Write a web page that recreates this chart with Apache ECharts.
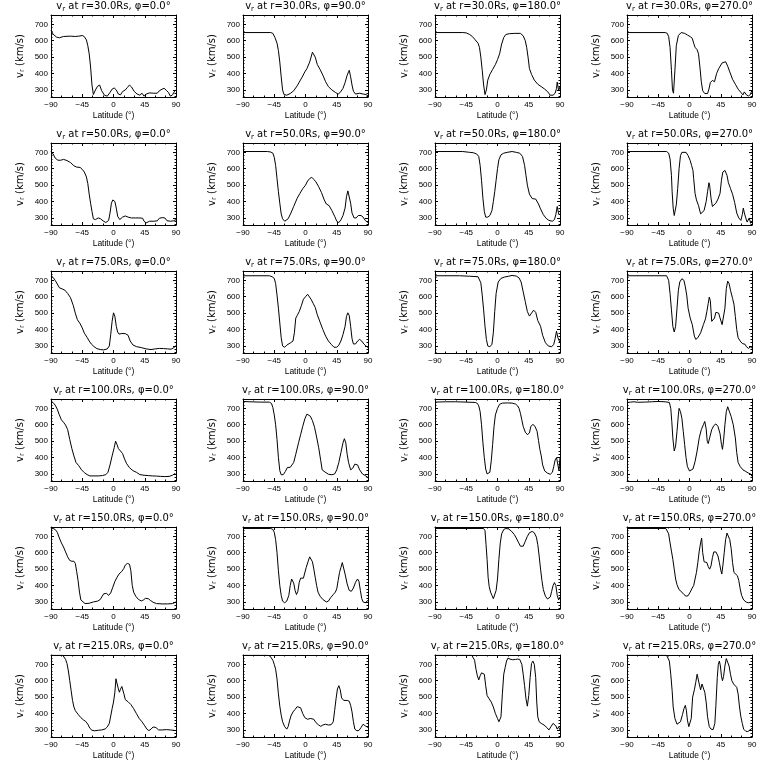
<!DOCTYPE html>
<html><head><meta charset="utf-8">
<script src="https://cdn.jsdelivr.net/npm/echarts@6/dist/echarts.min.js"></script>
<style>html,body{margin:0;padding:0;background:#fff}#c{width:768px;height:768px}</style>
</head><body><div id="c"></div>
<script>
// ---------- labels / ticks ----------
const radii = ['30.0', '50.0', '75.0', '100.0', '150.0', '215.0'];
const phis = ['0.0', '90.0', '180.0', '270.0'];
const xTicks = [-90, -45, 0, 45, 90];
const yTicks = [300, 400, 500, 600, 700];
const yMinorTicks = [260, 280, 320, 340, 360, 380, 420, 440, 460, 480, 520, 540, 560, 580, 620, 640, 660, 680, 720, 740];
const xRange = [-90, 90];
const yRange = [257, 757];

// ---------- data: [latitude, v_r] ----------
const r30_phi0 = [[-90,665],[-87,640],[-82,622],[-78,618],[-72,626],[-62,628],[-55,626],[-50,628],[-45,632],[-42,625],[-39,605],[-37,570],[-35,520],[-33,440],[-31,330],[-29,272],[-26,300],[-23,322],[-20,330],[-17,295],[-13,268],[-9,262],[-5,285],[-2,305],[1,312],[4,300],[7,275],[10,270],[13,290],[17,300],[20,315],[23,330],[26,318],[30,290],[34,275],[38,268],[41,280],[44,262],[47,275],[52,282],[58,280],[63,280],[66,295],[70,305],[73,310],[76,298],[79,285],[82,262],[85,270],[88,292],[90,300]];
const r30_phi90 = [[-90,650],[-50,650],[-47,645],[-44,620],[-41,585],[-39,540],[-37,470],[-35,380],[-33,300],[-31,272],[-27,268],[-22,278],[-17,295],[-12,325],[-8,355],[-4,385],[-1,410],[2,430],[6,470],[10,530],[14,500],[17,455],[21,425],[25,390],[29,350],[33,320],[38,300],[43,285],[47,275],[50,285],[54,310],[57,345],[60,390],[63,420],[65,380],[67,330],[69,292],[72,275],[78,280],[83,275],[87,272],[90,265]];
const r30_phi180 = [[-90,650],[-50,650],[-45,648],[-40,638],[-36,625],[-32,605],[-28,585],[-26,560],[-24,500],[-22,420],[-20,330],[-18,272],[-16,300],[-14,360],[-11,395],[-7,425],[-3,455],[0,485],[3,520],[6,580],[9,620],[12,638],[17,643],[25,645],[33,645],[37,630],[40,600],[42,560],[44,500],[46,430],[49,395],[53,360],[58,335],[63,320],[68,305],[72,290],[76,268],[80,268],[83,280],[85,310],[86,348],[88,295],[90,320]];
const r30_phi270 = [[-90,650],[-35,650],[-32,645],[-30,625],[-28,560],[-26,420],[-24.5,300],[-23,280],[-21,420],[-19,570],[-16,632],[-12,650],[-7,645],[-3,635],[1,625],[4,615],[6,585],[8,560],[11,545],[13,520],[15,440],[17,350],[19,295],[22,278],[26,278],[28,305],[30,345],[33,358],[36,350],[39,400],[42,430],[47,465],[52,472],[55,445],[58,410],[62,365],[66,335],[70,305],[74,285],[77,270],[79,288],[82,270],[85,262],[88,275],[90,300]];

const r50_phi0 = [[-90,705],[-87,690],[-84,665],[-80,652],[-76,652],[-72,657],[-67,650],[-62,638],[-57,618],[-53,610],[-48,608],[-45,596],[-42,580],[-39,550],[-37,510],[-35,445],[-33,390],[-31,340],[-29,295],[-26,290],[-22,300],[-19,296],[-15,282],[-11,272],[-7,285],[-5,330],[-3,390],[-1,410],[2,400],[4,360],[6,310],[9,290],[13,305],[17,312],[21,305],[26,300],[32,300],[38,300],[42,298],[44,280],[47,270],[52,280],[58,280],[63,282],[66,298],[70,302],[74,300],[77,283],[82,280],[86,282],[90,290]];
const r50_phi90 = [[-90,705],[-55,705],[-50,702],[-47,695],[-45,670],[-43,620],[-41,540],[-39,460],[-37,390],[-35,325],[-33,295],[-30,280],[-28,278],[-25,295],[-21,330],[-17,370],[-12,420],[-8,450],[-4,478],[0,500],[3,525],[6,540],[9,548],[12,535],[15,520],[19,490],[23,455],[27,410],[30,385],[34,375],[38,345],[42,310],[45,280],[48,272],[51,288],[54,315],[57,360],[59,430],[61,465],[63,455],[65,390],[67,330],[70,300],[73,300],[76,315],[80,315],[83,305],[86,285],[90,272]];
const r50_phi180 = [[-90,705],[-50,705],[-40,700],[-35,698],[-30,690],[-27,675],[-25,620],[-23,530],[-21,420],[-19,340],[-17,305],[-14,305],[-11,315],[-8,345],[-6,400],[-4,460],[-2,530],[0,600],[2,655],[5,685],[9,695],[14,700],[21,705],[27,700],[32,695],[36,675],[39,620],[41,560],[43,500],[46,445],[50,418],[55,415],[59,385],[62,355],[66,320],[70,298],[74,285],[79,280],[82,290],[84,320],[86,370],[88,325],[90,320]];
const r50_phi270 = [[-90,705],[-33,705],[-30,695],[-28,660],[-26,560],[-25,460],[-23.5,360],[-22,315],[-20.5,320],[-19,380],[-17,480],[-15,600],[-13,680],[-11,700],[-5,700],[-2,680],[1,650],[3,620],[5,590],[6,540],[8,450],[10,410],[13,375],[16,325],[18,322],[21,345],[24,400],[26,460],[28,515],[29,500],[31,420],[33,370],[35,358],[38,390],[41,415],[44,450],[46,530],[48,580],[51,590],[54,560],[56,515],[59,480],[62,445],[65,395],[68,330],[71,300],[74,285],[76,320],[77.5,360],[79,330],[81,300],[83,275],[86,300],[88,268],[90,275]];

const r75_phi0 = [[-90,728],[-87,718],[-84,700],[-81,678],[-78,655],[-74,648],[-70,640],[-66,620],[-62,595],[-58,548],[-55,500],[-52,460],[-48,435],[-45,410],[-42,378],[-38,352],[-35,330],[-32,312],[-28,296],[-24,284],[-19,278],[-14,276],[-9,282],[-6,300],[-4,370],[-2,450],[0,502],[2,480],[4,420],[6,385],[8,372],[12,376],[17,375],[21,365],[24,330],[28,306],[33,296],[40,290],[47,282],[54,278],[60,282],[66,285],[72,284],[78,282],[83,280],[87,290],[90,302]];
const r75_phi90 = [[-90,728],[-52,728],[-48,722],[-45,712],[-43,680],[-41,610],[-39,530],[-37,440],[-35,350],[-33,300],[-30,292],[-27,305],[-22,318],[-18,330],[-16,380],[-14,470],[-12,485],[-9,510],[-6,545],[-3,585],[0,600],[3,615],[5,610],[8,585],[11,560],[14,535],[17,490],[21,445],[25,400],[29,360],[33,330],[37,310],[41,292],[45,292],[48,305],[51,330],[54,370],[57,420],[59,480],[61,502],[63,485],[65,420],[67,345],[69,312],[72,312],[75,330],[78,340],[81,330],[84,312],[87,300],[90,290]];
const r75_phi180 = [[-90,728],[-55,728],[-40,725],[-28,722],[-26,710],[-24,685],[-22,610],[-20,520],[-18,420],[-16,340],[-14,300],[-11,295],[-8,310],[-6,380],[-4,510],[-2,620],[1,690],[5,712],[10,720],[16,725],[21,730],[27,726],[31,715],[34,690],[37,630],[40,570],[43,510],[46,482],[49,500],[52,518],[55,505],[58,455],[62,420],[65,365],[69,320],[73,300],[78,295],[81,310],[83,345],[85,390],[87,350],[90,320]];
const r75_phi270 = [[-90,728],[-33,728],[-30,700],[-28,620],[-26,520],[-24,420],[-22,385],[-20,420],[-18,530],[-16,640],[-14,690],[-11,710],[-8,700],[-6,660],[-4,610],[-2,530],[1,470],[4,430],[7,360],[9,340],[12,350],[16,380],[20,430],[23,465],[25,510],[27,560],[28.5,598],[30,575],[32,450],[34,440],[36,470],[38,505],[40,515],[42,500],[44,470],[47,430],[49,440],[51,530],[53,650],[55,695],[57,680],[59,640],[62,590],[64,555],[66,480],[68,400],[70,350],[73,330],[76,315],[78,322],[80,310],[82,295],[85,285],[88,295],[90,285]];

const r100_phi0 = [[-90,745],[-87,735],[-84,720],[-81,695],[-78,660],[-75,630],[-72,615],[-69,598],[-66,570],[-63,510],[-60,455],[-57,410],[-54,370],[-50,350],[-46,325],[-42,308],[-38,296],[-34,288],[-28,288],[-22,288],[-16,290],[-11,296],[-8,310],[-5,355],[-2,410],[1,460],[3,500],[5,480],[7,455],[10,440],[13,425],[16,390],[19,362],[23,338],[28,320],[33,310],[38,296],[44,292],[50,290],[56,288],[62,287],[68,285],[74,284],[80,285],[85,292],[88,302],[90,296]];
const r100_phi90 = [[-90,742],[-80,740],[-65,738],[-52,738],[-49,730],[-47,705],[-45,660],[-43,600],[-41,510],[-39,400],[-37,320],[-35,295],[-32,296],[-29,315],[-26,340],[-24,352],[-22,340],[-20,340],[-17,370],[-14,420],[-10,490],[-7,540],[-4,590],[-1,635],[2,665],[4,668],[7,652],[10,625],[13,585],[16,525],[19,460],[22,380],[24,325],[28,312],[33,298],[38,295],[42,300],[45,325],[48,370],[51,430],[54,490],[56,515],[58,490],[60,420],[62,370],[65,325],[68,335],[71,360],[73,372],[75,355],[78,325],[82,300],[86,290],[90,278]];
const r100_phi180 = [[-90,738],[-75,740],[-60,740],[-45,738],[-32,736],[-29,730],[-27,715],[-25,680],[-23,600],[-21,490],[-19,400],[-17,330],[-15,300],[-12.5,292],[-11,310],[-9,380],[-7,480],[-5,590],[-3,660],[0,700],[3,725],[7,732],[14,733],[21,732],[26,726],[29,715],[31,700],[33,670],[35,630],[37,590],[40,555],[43,540],[46,550],[48,590],[51,602],[54,590],[57,560],[59,505],[61,450],[63,410],[65,355],[68,318],[72,305],[76,298],[79,310],[81,345],[83,385],[85,400],[87,390],[88.5,320],[90,400]];
const r100_phi270 = [[-90,735],[-85,738],[-80,740],[-75,737],[-65,738],[-55,740],[-45,742],[-35,740],[-29,736],[-27,700],[-25.5,620],[-24,520],[-22,440],[-20,470],[-18,560],[-16,660],[-15,700],[-13,680],[-11,640],[-9,560],[-7,480],[-5,400],[-3,345],[0,318],[2,310],[5,330],[8,375],[11,440],[14,520],[17,570],[20,600],[22,620],[24,575],[25.5,500],[27,485],[29,520],[32,570],[35,595],[38,605],[41,590],[44,545],[46,480],[47.5,450],[49,500],[51,600],[53,680],[55,710],[57,700],[60,650],[63,600],[66,520],[68,430],[70,370],[73,345],[77,325],[81,315],[85,305],[88,300],[90,285]];

const r150_phi0 = [[-90,745],[-87,748],[-84,742],[-81,725],[-78,690],[-75,660],[-72,635],[-69,605],[-66,575],[-63,553],[-60,548],[-57,548],[-55,535],[-53,485],[-51,430],[-49,360],[-47,312],[-45,300],[-41,290],[-35,292],[-29,300],[-23,305],[-19,315],[-17,330],[-14,350],[-12,360],[-10,352],[-7,340],[-4,355],[-1,390],[2,425],[5,450],[8,470],[12,487],[15,505],[17,525],[20,535],[23,530],[25,490],[27,400],[29,360],[32,335],[36,315],[40,306],[43,312],[46,322],[50,320],[53,310],[57,298],[62,290],[70,288],[78,288],[85,290],[90,300]];
const r150_phi90 = [[-90,748],[-50,748],[-47,742],[-45,725],[-43,680],[-41,600],[-39,490],[-37,400],[-35,340],[-33,305],[-30,295],[-27,305],[-24,340],[-22,400],[-20,440],[-19,450],[-17,415],[-15,370],[-13,345],[-11,365],[-9,420],[-7,445],[-3,445],[-1,455],[1,510],[4,550],[6,575],[8,570],[10,545],[12,500],[14,450],[16,400],[18,360],[21,335],[25,315],[30,300],[33,305],[36,325],[40,345],[43,360],[45,380],[47,430],[49,480],[51,510],[53,540],[55,530],[57,470],[60,410],[63,370],[66,365],[69,385],[72,420],[75,440],[77,425],[79,370],[81,320],[83,300],[86,295],[90,310]];
const r150_phi180 = [[-90,748],[-20,748],[-18,735],[-16.5,650],[-15,560],[-13.5,450],[-12,395],[-10,360],[-8,340],[-6,320],[-4,322],[-2,370],[0,440],[2,560],[4,660],[6,715],[9,742],[12,748],[16,745],[20,732],[24,712],[27,690],[30,665],[33,640],[35,628],[37,640],[40,670],[43,700],[46,722],[50,730],[53,722],[56,695],[58,650],[60,580],[62,500],[64,430],[66,375],[69,335],[72,318],[74,310],[76,330],[78,365],[80,400],[82,418],[84,400],[86,340],[88,312],[90,330]];
const r150_phi270 = [[-90,748],[-34,748],[-32,738],[-30,715],[-28,660],[-26,610],[-24,560],[-22,500],[-20,440],[-18,405],[-15,375],[-11,360],[-8,345],[-5,335],[-2,338],[1,360],[4,385],[6,400],[8,440],[10,480],[12,540],[14,610],[16,660],[17.5,690],[19,600],[21,545],[23,550],[25,540],[27,515],[29,500],[31,520],[33,570],[35,605],[38,605],[41,580],[43,540],[45,495],[46.5,470],[48,520],[50,600],[52,680],[54,720],[56,715],[58,680],[60,625],[62,540],[64,480],[66,468],[69,460],[71,430],[73,380],[75,340],[78,312],[82,298],[85,295],[87,305],[90,300]];

const r215_phi0 = [[-90,755],[-73,755],[-71,745],[-69,730],[-67,705],[-65,660],[-63,600],[-61,540],[-59,480],[-57,440],[-55,418],[-51,395],[-47,375],[-43,360],[-40,352],[-37,335],[-34,310],[-31,298],[-27,295],[-22,298],[-17,300],[-12,306],[-9,318],[-6,340],[-4,385],[-2,430],[0,470],[2,530],[3.5,612],[5,600],[7,550],[8.5,530],[10,548],[12,565],[13.5,560],[15,520],[17,485],[21,472],[25,455],[29,430],[33,400],[37,370],[41,350],[45,325],[48,305],[51,296],[54,305],[57,318],[59,330],[61,315],[65,300],[70,300],[76,302],[82,300],[86,298],[90,296]];
const r215_phi90 = [[-90,755],[-54,755],[-51,750],[-49,740],[-47,725],[-45,700],[-43,670],[-41,610],[-39,520],[-37,445],[-35,390],[-33,350],[-30,320],[-27,305],[-25,320],[-23,355],[-21,385],[-18,410],[-15,425],[-12,442],[-10,448],[-7,435],[-4,400],[-1,375],[3,365],[7,370],[12,365],[15,345],[19,330],[22,322],[25,330],[29,335],[33,330],[37,332],[40,350],[42,420],[44,490],[46,550],[48,570],[50,545],[52,495],[55,480],[60,480],[63,475],[65,450],[67,410],[69,350],[71,305],[74,295],[77,297],[80,315],[83,335],[86,325],[90,315]];
const r215_phi180 = [[-90,755],[-37,755],[-35,745],[-33,725],[-31,670],[-29,630],[-27,605],[-25,630],[-23,648],[-21,655],[-19,640],[-17,570],[-15,510],[-12,490],[-9,470],[-6,440],[-3,400],[0,370],[2,350],[3,342],[5,380],[7,520],[9,640],[11,680],[13,720],[15,738],[18,732],[22,728],[26,730],[29,732],[32,730],[35,700],[37,640],[39,570],[41,490],[43,445],[45,510],[47,620],[49,705],[51,720],[53,700],[55,620],[56.5,470],[58,380],[60,350],[63,340],[67,330],[71,315],[74,300],[77,320],[80,340],[82,350],[84,325],[86,305],[88,318],[90,300]];
const r215_phi270 = [[-90,755],[-33,755],[-31,745],[-29,720],[-27,640],[-25,540],[-23.5,440],[-21,370],[-18,335],[-16,325],[-13,350],[-10,395],[-8,430],[-6,450],[-4.5,420],[-3,360],[-1,320],[1,310],[2.5,370],[4.5,500],[7,545],[9,590],[11,640],[12.5,650],[14,580],[16,545],[18,580],[20,570],[22,530],[24,470],[26,380],[28.5,320],[31,305],[34,302],[36.5,340],[38,450],[40,620],[41.5,700],[43,720],[44.5,690],[46,630],[47.5,600],[49,625],[51,690],[53,735],[55,725],[57,690],[59,640],[61,600],[63.5,580],[66,585],[68,560],[70,520],[72,440],[74,380],[76,340],[78,305],[81,292],[84,290],[87,300],[90,310]];

const panelData = [
  [r30_phi0, r30_phi90, r30_phi180, r30_phi270],
  [r50_phi0, r50_phi90, r50_phi180, r50_phi270],
  [r75_phi0, r75_phi90, r75_phi180, r75_phi270],
  [r100_phi0, r100_phi90, r100_phi180, r100_phi270],
  [r150_phi0, r150_phi90, r150_phi180, r150_phi270],
  [r215_phi0, r215_phi90, r215_phi180, r215_phi270]
];

// ---------- layout ----------
const L0 = 51, CW = 192, T0 = 15, RH = 128, GW = 125, GH = 82;
const FONT = 'Liberation Sans';
const black = '#000';

const grids = [], xAxes = [], yAxes = [], series = [], titles = [];
const tickBase = {show: true, inside: true, length: 3, lineStyle: {color: black, width: 1}};

for (let r = 0; r < 6; r++) {
  for (let c = 0; c < 4; c++) {
    const k = grids.length;
    const left = L0 + c * CW, top = T0 + r * RH;
    grids.push({left: left, top: top, width: GW, height: GH, containLabel: false});
    titles.push({
      text: '{a|v}{s|r}{a| at r=' + radii[r] + 'Rs, φ=' + phis[c] + '°}',
      left: left + GW / 2, top: r * RH - 1, textAlign: 'center', padding: 0,
      textStyle: {fontWeight: 'normal', rich: {
        a: {fontFamily: 'DejaVu Sans', fontSize: 10, fontWeight: 'normal', color: black, lineHeight: 14},
        s: {fontFamily: 'DejaVu Sans', fontSize: 7, fontWeight: 'normal', color: black, verticalAlign: 'bottom', lineHeight: 9}
      }}
    });
    // bottom x axis
    xAxes.push({
      gridIndex: k, type: 'value', position: 'bottom', min: xRange[0], max: xRange[1], interval: 45,
      axisLine: {show: true, onZero: false, lineStyle: {color: black, width: 1}},
      axisTick: tickBase,
      minorTick: {show: true, splitNumber: 3, length: 1.5, lineStyle: {color: black, width: 1}},
      splitLine: {show: false},
      axisLabel: {show: true, color: black, fontFamily: FONT, fontSize: 8, margin: 4,
        customValues: xTicks, formatter: v => (v < 0 ? '\u2212' : '') + Math.abs(v)},
      name: 'Latitude (°)', nameLocation: 'middle', nameGap: 14,
      nameTextStyle: {color: black, fontFamily: FONT, fontSize: 8.5}
    });
    // top mirror x axis
    xAxes.push({
      gridIndex: k, type: 'value', position: 'top', min: xRange[0], max: xRange[1], interval: 45,
      axisLine: {show: true, onZero: false, lineStyle: {color: black, width: 1}},
      axisTick: tickBase,
      minorTick: {show: true, splitNumber: 3, length: 1.5, lineStyle: {color: black, width: 1}},
      splitLine: {show: false}, axisLabel: {show: false}
    });
    // left y axis (major)
    yAxes.push({
      gridIndex: k, type: 'value', position: 'left', min: yRange[0], max: yRange[1],
      axisLine: {show: true, onZero: false, lineStyle: {color: black, width: 1}},
      axisTick: Object.assign({}, tickBase, {customValues: yTicks}),
      splitLine: {show: false},
      axisLabel: {show: true, color: black, fontFamily: FONT, fontSize: 8, margin: 3, customValues: yTicks},
      name: '{a|v}{s|r}{a| (km/s)}', nameLocation: 'middle', nameGap: 25, nameRotate: 90,
      nameTextStyle: {rich: {
        a: {fontFamily: 'DejaVu Sans', fontSize: 10, color: black, lineHeight: 12},
        s: {fontFamily: 'DejaVu Sans', fontSize: 7, color: black, verticalAlign: 'bottom', lineHeight: 8}
      }}
    });
    // left y axis (minor)
    yAxes.push({
      gridIndex: k, type: 'value', position: 'left', min: yRange[0], max: yRange[1],
      axisLine: {show: false, onZero: false},
      axisTick: Object.assign({}, tickBase, {length: 1.5, customValues: yMinorTicks}),
      splitLine: {show: false}, axisLabel: {show: false}
    });
    // right y axis (major)
    yAxes.push({
      gridIndex: k, type: 'value', position: 'right', min: yRange[0], max: yRange[1],
      axisLine: {show: true, onZero: false, lineStyle: {color: black, width: 1}},
      axisTick: Object.assign({}, tickBase, {customValues: yTicks}),
      splitLine: {show: false}, axisLabel: {show: false}
    });
    // right y axis (minor)
    yAxes.push({
      gridIndex: k, type: 'value', position: 'right', min: yRange[0], max: yRange[1],
      axisLine: {show: false, onZero: false},
      axisTick: Object.assign({}, tickBase, {length: 1.5, customValues: yMinorTicks}),
      splitLine: {show: false}, axisLabel: {show: false}
    });
    series.push({
      type: 'line', xAxisIndex: 2 * k, yAxisIndex: 4 * k, data: panelData[r][c],
      showSymbol: false, symbol: 'none', silent: true, clip: true,
      lineStyle: {color: black, width: 1}
    });
  }
}

const chart = echarts.init(document.getElementById('c'), null, {renderer: 'canvas'});
chart.setOption({
  backgroundColor: '#fff', animation: false,
  title: titles, grid: grids, xAxis: xAxes, yAxis: yAxes, series: series
});
</script>
</body></html>
